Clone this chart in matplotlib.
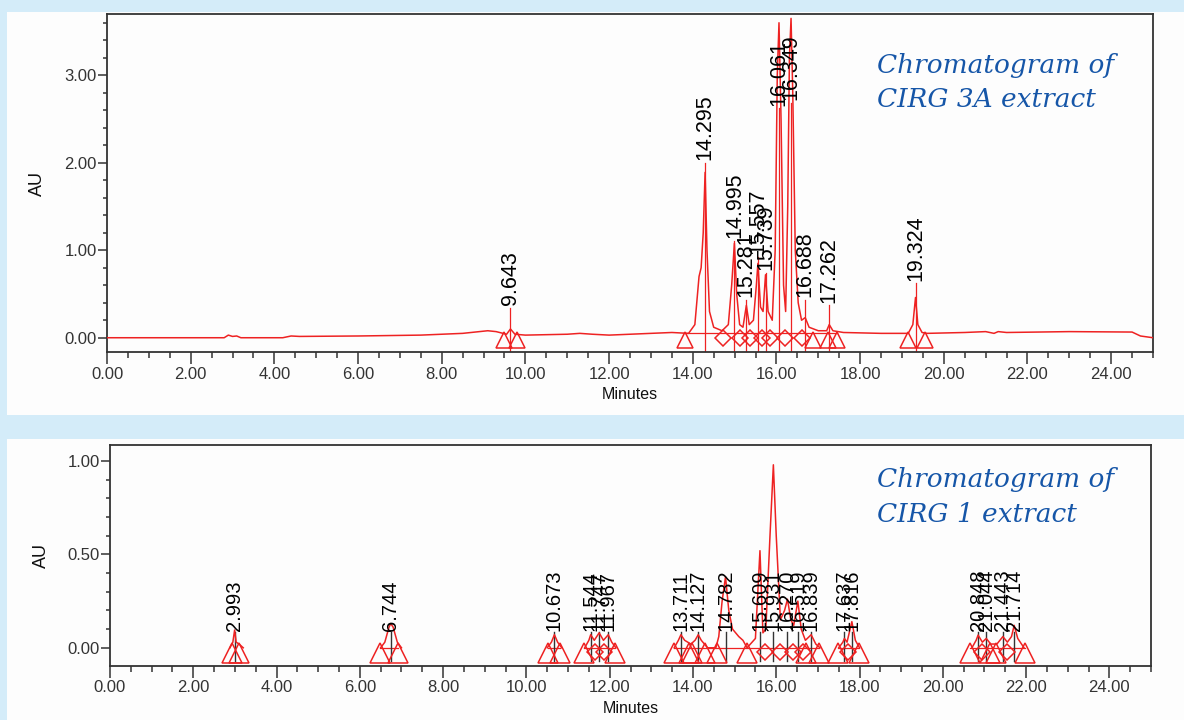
import matplotlib.pyplot as plt
from matplotlib.patches import Rectangle
from matplotlib.ticker import MultipleLocator, FormatStrFormatter

plt.rcParams['font.family'] = ['Liberation Sans', 'DejaVu Sans']

# --- CIRG 3A extract: detector trace (minutes, AU) ---
top_time = [0.0, 2.8, 2.9, 3.0, 3.1, 3.2, 4.2, 4.4, 4.6, 6.0, 7.5, 8.5, 9.1, 9.3,
            9.55, 9.643, 9.75, 10.0, 11.0, 11.3, 11.6, 12.0, 13.0, 13.5, 13.9,
            14.05, 14.15, 14.2, 14.25, 14.295, 14.34, 14.4, 14.5, 14.7, 14.85,
            14.93, 14.995, 15.05, 15.12, 15.2, 15.281, 15.35, 15.45, 15.52, 15.557,
            15.62, 15.68, 15.739, 15.8, 15.9, 15.97, 16.02, 16.061, 16.11, 16.17,
            16.22, 16.27, 16.31, 16.349, 16.39, 16.45, 16.52, 16.6, 16.688, 16.78,
            17.0, 17.2, 17.262, 17.35, 17.6, 18.5, 19.15, 19.26, 19.324, 19.38,
            19.48, 19.6, 20.5, 21.0, 21.2, 21.3, 21.5, 23.0, 24.5, 24.7, 25.0]
top_au = [0.0, 0.0, 0.03, 0.015, 0.02, 0.0, 0.0, 0.02, 0.015, 0.02, 0.03, 0.05, 0.08, 0.07,
          0.04, 0.10, 0.04, 0.03, 0.04, 0.05, 0.04, 0.03, 0.05, 0.06, 0.05,
          0.15, 0.70, 0.80, 1.20, 1.89, 1.00, 0.30, 0.12, 0.08, 0.15,
          0.60, 1.08, 0.50, 0.15, 0.12, 0.37, 0.15, 0.20, 0.60, 0.85,
          0.35, 0.30, 0.72, 0.30, 0.20, 1.00, 3.00, 3.60, 2.50, 0.60,
          0.30, 1.50, 3.20, 3.65, 2.80, 1.00, 0.40, 0.20, 0.23, 0.12,
          0.08, 0.08, 0.15, 0.08, 0.06, 0.05, 0.05, 0.15, 0.46, 0.15,
          0.06, 0.05, 0.06, 0.07, 0.05, 0.07, 0.06, 0.07, 0.065, 0.02, 0.0]
top_peak_rt = [9.643, 14.295, 14.995, 15.281, 15.557, 15.739, 16.061, 16.349,
               16.688, 17.262, 19.324]
top_label_au = [0.34, 2.00, 1.11, 0.43, 0.92, 0.74, 2.62, 2.68, 0.43, 0.37, 0.62]
top_tri_rt = [9.49, 9.80, 13.81, 16.88, 17.23, 17.45, 19.15, 19.55]
top_dia_rt = [14.72, 15.13, 15.37, 15.65, 15.85, 16.20, 16.61]

# --- CIRG 1 extract: trace pieces around the integrated peaks ---
bot_time = [2.88, 2.95, 2.993, 3.03, 3.1, 3.2, None,
            6.5, 6.6, 6.7, 6.744, 6.8, 6.9, 7.0, None,
            10.5, 10.6, 10.673, 10.75, 10.85, None,
            11.4, 11.5, 11.544, 11.63, 11.747, 11.85, 11.967, 12.05, 12.15, None,
            13.55, 13.65, 13.711, 13.8, 13.95, 14.05, 14.127, 14.2, 14.35, 14.55,
            14.62, 14.7, 14.782, 14.86, 14.95, 15.1, 15.2, 15.3, 15.5, 15.609,
            15.68, 15.75, 15.85, 15.931, 16.0, 16.1, 16.2, 16.27, 16.35, 16.42,
            16.519, 16.6, 16.7, 16.839, 16.95, 17.05, None,
            17.5, 17.6, 17.637, 17.7, 17.816, 17.9, 18.0, None,
            20.7, 20.8, 20.848, 20.95, 21.044, 21.15, 21.3, 21.443, 21.55, 21.65,
            21.714, 21.8, 21.95]
bot_au = [0.0, 0.03, 0.095, 0.03, 0.02, 0.0, None,
          0.0, 0.03, 0.11, 0.13, 0.11, 0.03, 0.0, None,
          0.0, 0.03, 0.07, 0.03, 0.0, None,
          0.0, 0.04, 0.07, 0.04, 0.08, 0.04, 0.07, 0.03, 0.0, None,
          0.0, 0.04, 0.07, 0.04, 0.02, 0.04, 0.07, 0.04, 0.0, 0.0,
          0.06, 0.25, 0.38, 0.20, 0.10, 0.06, 0.04, 0.0, 0.05, 0.52,
          0.08, 0.10, 0.60, 0.98, 0.60, 0.15, 0.20, 0.26, 0.15, 0.12,
          0.25, 0.10, 0.04, 0.07, 0.02, 0.0, None,
          0.0, 0.03, 0.05, 0.03, 0.14, 0.04, 0.0, None,
          0.0, 0.04, 0.068, 0.03, 0.05, 0.02, 0.02, 0.06, 0.03, 0.06,
          0.12, 0.05, 0.0]
bot_peak_rt = [2.993, 6.744, 10.673, 11.544, 11.747, 11.967, 13.711, 14.127,
               14.782, 15.609, 15.931, 16.270, 16.519, 16.839, 17.637, 17.816,
               20.848, 21.044, 21.443, 21.714]
bot_tri_rt = [2.93, 3.10, 6.48, 6.92, 10.52, 10.81, 11.38, 12.12, 13.55, 13.90,
              13.98, 14.30, 14.58, 15.30, 16.72, 17.02, 17.48, 17.98, 20.65,
              21.13, 21.28, 21.97]
bot_dia_rt = [11.65, 11.86, 15.72, 16.10, 16.40, 16.65, 17.72, 20.95, 21.55]

RED = '#ee2222'
GREY = '#333333'
TITLE_BLUE = '#1656a8'

fig = plt.figure(figsize=(11.84, 7.2), dpi=100, facecolor='#d4ecf9')
W, H = 1184, 720

# white panels behind each chromatogram
for y0, y1 in [(12, 415), (439, 720)]:
    fig.patches.append(Rectangle((7 / W, 1 - y1 / H), 1 - 7 / W, (y1 - y0) / H,
                                 transform=fig.transFigure, facecolor='#fdfdfd',
                                 edgecolor='none', zorder=-10))


def style_axes(ax, ymin, ymax, ymajor, yminor):
    ax.set_facecolor('none')
    ax.set_xlim(0, 25)
    ax.set_ylim(ymin, ymax)
    ax.xaxis.set_major_locator(MultipleLocator(2))
    ax.xaxis.set_minor_locator(MultipleLocator(0.5))
    ax.yaxis.set_major_locator(MultipleLocator(ymajor))
    ax.yaxis.set_minor_locator(MultipleLocator(yminor))
    ax.xaxis.set_major_formatter(FormatStrFormatter('%.2f'))
    ax.yaxis.set_major_formatter(FormatStrFormatter('%.2f'))
    ax.tick_params(axis='x', which='major', direction='out', length=8.5, width=1.1,
                   color=GREY, labelsize=12, labelcolor=GREY, pad=2)
    ax.tick_params(axis='x', which='minor', direction='out', length=4, width=1.1, color=GREY)
    ax.tick_params(axis='y', which='major', direction='out', length=6.5, width=1.1,
                   color=GREY, labelsize=12, labelcolor=GREY, pad=1)
    ax.tick_params(axis='y', which='minor', direction='out', length=3, width=1.1, color=GREY)
    for s in ax.spines.values():
        s.set_color(GREY)
        s.set_linewidth(1.3)
    ax.set_xlabel('Minutes', fontsize=11.5, color='#111111', labelpad=4)
    ax.set_ylabel('AU', fontsize=13, color='#111111')


# ---------------- CIRG 3A ----------------
ax1 = fig.add_axes([107 / W, 1 - 352 / H, 1046 / W, 338 / H])
style_axes(ax1, -0.163, 3.70, 1.0, 0.2)
ax1.yaxis.set_label_coords(-0.058, 0.5)
ax1.plot(top_time, top_au, color=RED, lw=1.1, zorder=3)
ax1.plot([13.81, 17.45], [0.05, 0.05], color=RED, lw=0.9, zorder=2)
for rt, lv in zip(top_peak_rt, top_label_au):
    ax1.plot([rt, rt], [-0.163, lv], color=RED, lw=0.9, zorder=2)
    ax1.annotate(f'{rt:.3f}', (rt, lv), xytext=(0, 2), textcoords='offset points',
                 rotation=90, ha='center', va='bottom', fontsize=15.5, color='black')
ax1.plot(top_tri_rt, [-0.03] * len(top_tri_rt), linestyle='none', marker='^',
         markersize=11, markerfacecolor='none', markeredgecolor=RED, mew=1.1, zorder=4)
ax1.plot(top_dia_rt, [0.0] * len(top_dia_rt), linestyle='none', marker='D',
         markersize=8, markerfacecolor='none', markeredgecolor=RED, mew=1.1, zorder=4)

# ---------------- CIRG 1 ----------------
ax2 = fig.add_axes([110 / W, 1 - 665.7 / H, 1041 / W, 220.7 / H])
style_axes(ax2, -0.096, 1.086, 0.5, 0.1)
ax2.yaxis.set_label_coords(-0.058, 0.5)
ax2.plot([float('nan') if t is None else t for t in bot_time],
         [float('nan') if a is None else a for a in bot_au], color=RED, lw=1.1, zorder=3)
for x0, x1 in [(6.48, 6.92), (10.52, 10.81), (11.38, 12.12), (13.55, 17.02),
               (17.48, 17.98), (20.65, 21.97)]:
    ax2.plot([x0, x1], [0.0, 0.0], color=RED, lw=0.9, zorder=2)
label_level = 0.085
for rt in bot_peak_rt:
    ax2.plot([rt, rt], [-0.07, label_level], color=GREY, lw=1.0, zorder=2)
    ax2.annotate(f'{rt:.3f}', (rt, label_level), xytext=(0, 1), textcoords='offset points',
                 rotation=90, ha='center', va='bottom', fontsize=14.5, color='black')
ax2.plot(bot_tri_rt, [-0.03] * len(bot_tri_rt), linestyle='none', marker='^',
         markersize=14, markerfacecolor='none', markeredgecolor=RED, mew=1.1, zorder=4)
ax2.plot(bot_dia_rt, [-0.025] * len(bot_dia_rt), linestyle='none', marker='D',
         markersize=8.5, markerfacecolor='none', markeredgecolor=RED, mew=1.1, zorder=4)

# panel captions
title_kw = dict(fontsize=19, color=TITLE_BLUE, style='italic',
                family=['DejaVu Serif'], va='baseline', ha='left')
fig.text(877 / W, 1 - 73 / H, 'Chromatogram of', **title_kw)
fig.text(877 / W, 1 - 107 / H, 'CIRG 3A extract', **title_kw)
fig.text(877 / W, 1 - 487 / H, 'Chromatogram of', **title_kw)
fig.text(877 / W, 1 - 522 / H, 'CIRG 1 extract', **title_kw)

fig.savefig('out.png', dpi=100, facecolor=fig.get_facecolor())
